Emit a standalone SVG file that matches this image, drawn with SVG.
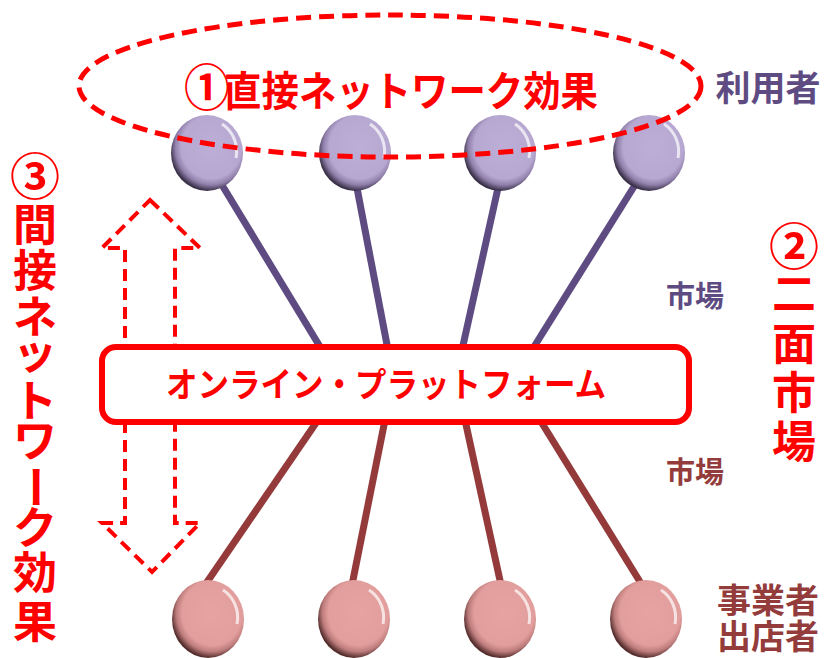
<svg xmlns="http://www.w3.org/2000/svg" width="827" height="658" viewBox="0 0 827 658">
<defs>
<radialGradient id="gp" cx="0.56" cy="0.42" r="0.58">
<stop offset="0" stop-color="#bcaed6"/>
<stop offset="0.72" stop-color="#b7a8d1"/>
<stop offset="0.86" stop-color="#9080ab"/>
<stop offset="1" stop-color="#3a3048"/>
</radialGradient>
<radialGradient id="gr" cx="0.56" cy="0.42" r="0.58">
<stop offset="0" stop-color="#e6a3a2"/>
<stop offset="0.72" stop-color="#e29e9d"/>
<stop offset="0.86" stop-color="#bd7d7c"/>
<stop offset="1" stop-color="#552d2d"/>
</radialGradient>
<style>
.red{font-family:"Noto Sans CJK JP","Noto Sans CJK SC",sans-serif;font-weight:bold;fill:#ff0000}
.lbl{font-family:"Noto Sans CJK JP","Noto Sans CJK SC",sans-serif;font-weight:bold}
.pu{fill:#5e4b82}
.br{fill:#943c3c}
.up{stroke:#5e4b82;stroke-width:7;fill:none}
.dn{stroke:#943a3a;stroke-width:7;fill:none}
.hl{fill:none;stroke:#ffffff;stroke-opacity:0.7;stroke-width:3}
.v{font-size:44px;text-anchor:middle}
.c{font-size:50px;text-anchor:middle}
</style>
</defs>
<rect width="827" height="658" fill="#ffffff"/>
<g id="connectors">
<line class="up" x1="222" y1="185" x2="322" y2="350"/>
<line class="up" x1="357" y1="188" x2="388" y2="350"/>
<line class="up" x1="498" y1="188" x2="462" y2="350"/>
<line class="up" x1="635" y1="185" x2="532" y2="350"/>
<line class="dn" x1="205" y1="585" x2="318" y2="420"/>
<line class="dn" x1="352" y1="585" x2="385" y2="420"/>
<line class="dn" x1="501" y1="585" x2="465" y2="420"/>
<line class="dn" x1="642" y1="585" x2="540" y2="420"/>
</g>
<g id="arrow3">
<polygon points="150,200 200,248 175,248 175,523 200,523 152,572 102,523 125,523 125,248 102,248" fill="none" stroke="#ff0000" stroke-width="4" stroke-dasharray="12,7"/>
</g>
<g id="platform">
<rect x="102" y="347" width="587" height="75" rx="14" fill="#ffffff" stroke="#ff0000" stroke-width="6"/>
<text class="red" x="386" y="397" font-size="34" text-anchor="middle" textLength="440" lengthAdjust="spacingAndGlyphs">オンライン・プラットフォーム</text>
</g>
<g id="users">
<g id="u1"><ellipse cx="207" cy="153" rx="36" ry="38" fill="url(#gp)"/><path class="hl" d="M222,124 A30,32 0 0 1 236,158"/></g>
<g id="u2"><ellipse cx="355" cy="153" rx="36" ry="38" fill="url(#gp)"/><path class="hl" d="M370,124 A30,32 0 0 1 384,158"/></g>
<g id="u3"><ellipse cx="500" cy="153" rx="36" ry="38" fill="url(#gp)"/><path class="hl" d="M515,124 A30,32 0 0 1 529,158"/></g>
<g id="u4"><ellipse cx="649" cy="153" rx="36" ry="38" fill="url(#gp)"/><path class="hl" d="M664,124 A30,32 0 0 1 678,158"/></g>
</g>
<g id="sellers">
<g id="s1"><ellipse cx="208" cy="619" rx="36" ry="39" fill="url(#gr)"/><path class="hl" d="M223,590 A30,32 0 0 1 237,624"/></g>
<g id="s2"><ellipse cx="354" cy="619" rx="36" ry="39" fill="url(#gr)"/><path class="hl" d="M369,590 A30,32 0 0 1 383,624"/></g>
<g id="s3"><ellipse cx="500" cy="619" rx="36" ry="39" fill="url(#gr)"/><path class="hl" d="M515,590 A30,32 0 0 1 529,624"/></g>
<g id="s4"><ellipse cx="646" cy="619" rx="36" ry="39" fill="url(#gr)"/><path class="hl" d="M661,590 A30,32 0 0 1 675,624"/></g>
</g>
<g id="direct">
<ellipse cx="390" cy="86" rx="311" ry="71" fill="none" stroke="#ff0000" stroke-width="5" stroke-dasharray="15,8"/>
<text class="red" x="184" y="106" font-size="41" textLength="414" lengthAdjust="spacingAndGlyphs"><tspan font-size="50">①</tspan><tspan dx="-6">直接ネットワーク効果</tspan></text>
</g>
<g id="labels">
<text class="lbl pu" x="768" y="101" font-size="35" text-anchor="middle">利用者</text>
<text class="lbl pu" x="695" y="307" font-size="29" text-anchor="middle">市場</text>
<text class="lbl br" x="695" y="483" font-size="29" text-anchor="middle">市場</text>
<text class="lbl br" x="768" y="613" font-size="34" text-anchor="middle">事業者</text>
<text class="lbl br" x="768" y="649" font-size="34" text-anchor="middle">出店者</text>
</g>
<g id="twosided">
<text class="red c" x="794" y="265">②</text>
<text class="red v" x="794" y="310">二</text>
<text class="red v" x="794" y="360">面</text>
<text class="red v" x="794" y="409">市</text>
<text class="red v" x="794" y="458">場</text>
</g>
<g id="indirect">
<text class="red c" x="35" y="195">③</text>
<text class="red v" x="35" y="241">間</text>
<text class="red v" x="35" y="287">接</text>
<text class="red v" x="35" y="333">ネ</text>
<text class="red v" x="35" y="369">ッ</text>
<text class="red v" x="35" y="417">ト</text>
<text class="red v" x="35" y="457">ワ</text>
<text class="red v" x="35" y="503" transform="rotate(90 35 487)">ー</text>
<text class="red v" x="35" y="544">ク</text>
<text class="red v" x="35" y="589">効</text>
<text class="red v" x="35" y="638">果</text>
</g>
</svg>
